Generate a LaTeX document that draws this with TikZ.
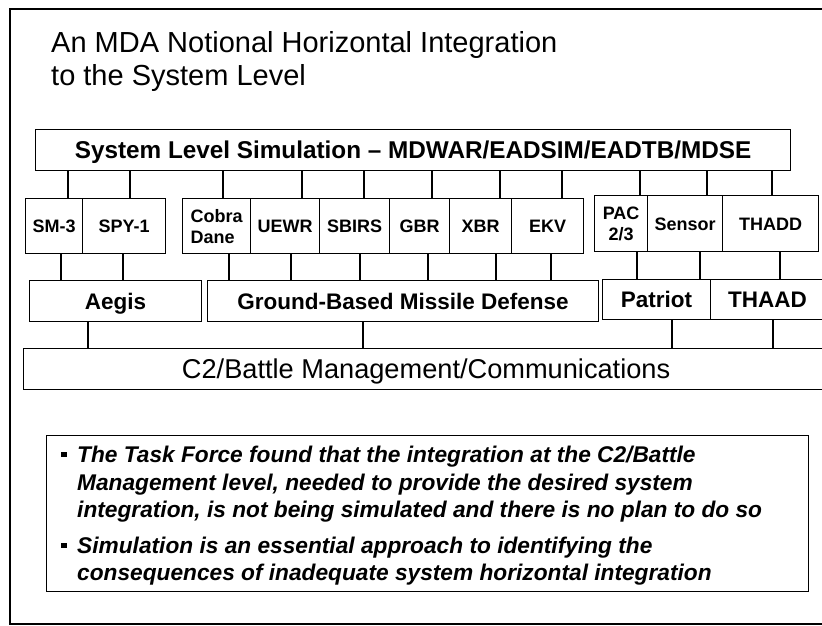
\documentclass[tikz,border=0pt]{standalone}
\usepackage{fontspec}
\setmainfont{Liberation Sans}
\newcommand\bulmark{\makebox[16pt][l]{\raisebox{5pt}{\rule{5.5pt}{5.5pt}}}}
\begin{document}
\begin{tikzpicture}[x=1pt,y=-1pt,
  box/.style={draw, line width=1.2pt, inner sep=0pt, anchor=north west, align=center},
  one/.style={text height=#1, text depth=0pt},
  cell/.style={box, font=\fontsize{18}{21}\selectfont\bfseries},
  midbox/.style={box, one=16.1pt, font=\fontsize{22.5}{26}\selectfont\bfseries},
  wire/.style={line width=1.2pt},
  ttl/.style={anchor=base west, inner sep=0pt, font=\fontsize{29}{32}\selectfont},
  note/.style={anchor=base west, inner sep=0pt, font=\fontsize{22.7}{27}\selectfont\bfseries\itshape}]
\useasboundingbox (0,0) rectangle (822,626);
\draw[wire] (830,9) -- (10,9) -- (10,624) -- (830,624);

% title
\node[ttl] (t1) at (51,53) {An MDA Notional Horizontal Integration};
\node[ttl] (t2) at (51,85) {to the System Level};

% top bar
\node[box, one=17.4pt, minimum width=755pt, minimum height=41pt, font=\fontsize{24.3}{27}\selectfont\bfseries] (sls) at (35,129) {System Level Simulation – MDWAR/EADSIM/EADTB/MDSE};

% component cells
\node[cell, one=12.9pt, minimum width=57pt, minimum height=55pt] (sm3) at (25,198) {SM-3};
\node[cell, one=12.9pt, minimum width=83pt, minimum height=55pt] (spy1) at (82,198) {SPY-1};
\node[cell, minimum width=68pt, minimum height=55pt, align=left] (cobra) at (182,198) {Cobra\\Dane};
\node[cell, one=12.9pt, minimum width=69pt, minimum height=55pt] (uewr) at (250,198) {UEWR};
\node[cell, one=12.9pt, minimum width=70pt, minimum height=55pt] (sbirs) at (319,198) {SBIRS};
\node[cell, one=12.9pt, minimum width=60pt, minimum height=55pt] (gbr) at (389,198) {GBR};
\node[cell, one=12.9pt, minimum width=62pt, minimum height=55pt] (xbr) at (449,198) {XBR};
\node[cell, one=12.9pt, minimum width=72pt, minimum height=55pt] (ekv) at (511,198) {EKV};
\node[cell, minimum width=53pt, minimum height=56pt] (pac) at (594,195) {PAC\\2/3};
\node[cell, one=12.9pt, minimum width=75pt, minimum height=56pt] (sensor) at (647,195) {Sensor};
\node[cell, one=12.9pt, minimum width=96pt, minimum height=56pt] (thadd) at (722,195) {THADD};

% middle boxes
\node[midbox, minimum width=172pt, minimum height=41pt] (aegis) at (29,280) {Aegis};
\node[midbox, minimum width=391pt, minimum height=41pt] (gbmd) at (207,280) {Ground-Based Missile Defense};
\node[midbox, minimum width=108pt, minimum height=40pt] (patriot) at (602,279) {Patriot};
\node[midbox, minimum width=114pt, minimum height=40pt] (thaad) at (710,279) {THAAD};

% C2 bar
\node[box, one=19.5pt, minimum width=805pt, minimum height=41pt, font=\fontsize{27.2}{30}\selectfont] (c2) at (23,348) {C2/Battle Management/Communications};

% connectors
\foreach \x/\c in {68/sm3,130/spy1,223/cobra,302/uewr,364/sbirs,432/gbr,500/xbr,562/ekv,640/pac,707/sensor,772/thadd}
  \draw[wire] (sls.south -| \x,0) -- (\c.north -| \x,0);
\foreach \x/\c/\m in {61/sm3/aegis,123/spy1/aegis,229/cobra/gbmd,291/uewr/gbmd,360/sbirs/gbmd,428/gbr/gbmd,496/xbr/gbmd,551/ekv/gbmd,637/pac/patriot,700/sensor/patriot,780/thadd/thaad}
  \draw[wire] (\c.south -| \x,0) -- (\m.north -| \x,0);
\foreach \x/\m in {88/aegis,363/gbmd,672/patriot,773/thaad}
  \draw[wire] (\m.south -| \x,0) -- (c2.north -| \x,0);

% note box
\node[box, line width=1pt, minimum width=762pt, minimum height=156pt] (notebox) at (46,435) {};
\node[note] (n1) at (61,462) {\bulmark The Task Force found that the integration at the C2/Battle};
\node[note] (n2) at (77,490) {Management level, needed to provide the desired system};
\node[note] (n3) at (77,517) {integration, is not being simulated and there is no plan to do so};
\node[note] (n4) at (61,553) {\bulmark Simulation is an essential approach to identifying the};
\node[note] (n5) at (77,580) {consequences of inadequate system horizontal integration};
\end{tikzpicture}
\end{document}
